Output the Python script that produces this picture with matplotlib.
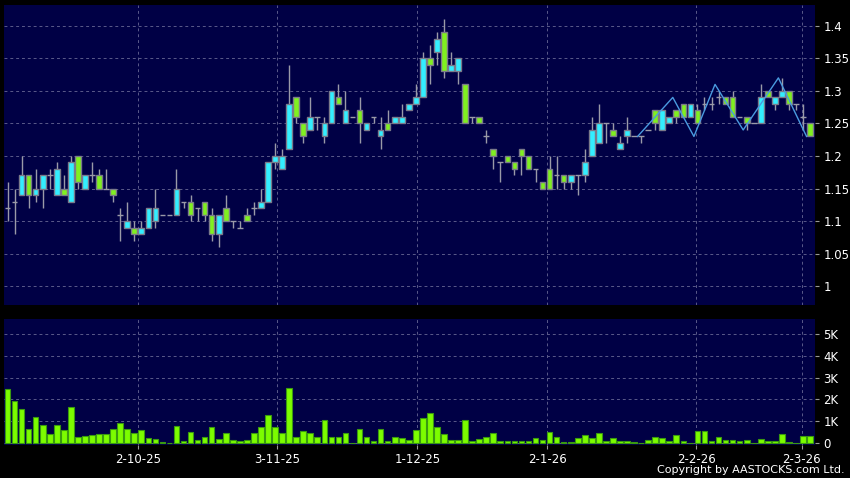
import numpy as np
import matplotlib
matplotlib.use("Agg")
import matplotlib.pyplot as plt

# daily OHLC (oldest -> newest)
opens = [1.12, 1.13, 1.14, 1.17, 1.14, 1.15, 1.17, 1.14, 1.15, 1.13,
         1.20, 1.15, 1.17, 1.17, 1.15, 1.15, 1.11, 1.09, 1.09, 1.08,
         1.09, 1.10, 1.11, 1.11, 1.11, 1.13, 1.13, 1.12, 1.13, 1.11,
         1.08, 1.12, 1.10, 1.09, 1.11, 1.12, 1.12, 1.13, 1.19, 1.18,
         1.21, 1.29, 1.25, 1.24, 1.26, 1.23, 1.25, 1.29, 1.25, 1.26,
         1.27, 1.24, 1.26, 1.23, 1.25, 1.25, 1.25, 1.27, 1.28, 1.29,
         1.35, 1.36, 1.39, 1.33, 1.33, 1.31, 1.26, 1.26, 1.23, 1.21,
         1.19, 1.20, 1.19, 1.21, 1.20, 1.18, 1.16, 1.18, 1.17, 1.17,
         1.16, 1.17, 1.17, 1.20, 1.22, 1.25, 1.24, 1.21, 1.23, 1.23,
         1.23, 1.24, 1.27, 1.24, 1.25, 1.27, 1.28, 1.26, 1.27, 1.28,
         1.28, 1.29, 1.29, 1.29, 1.26, 1.26, 1.25, 1.25, 1.30, 1.28,
         1.29, 1.30, 1.28, 1.26, 1.25]
highs = [1.16, 1.15, 1.20, 1.17, 1.18, 1.17, 1.18, 1.19, 1.17, 1.20,
         1.20, 1.17, 1.19, 1.18, 1.18, 1.15, 1.12, 1.13, 1.10, 1.10,
         1.12, 1.15, 1.11, 1.11, 1.18, 1.13, 1.14, 1.12, 1.13, 1.12,
         1.11, 1.14, 1.10, 1.10, 1.12, 1.13, 1.15, 1.19, 1.22, 1.21,
         1.34, 1.29, 1.25, 1.29, 1.26, 1.26, 1.30, 1.31, 1.30, 1.26,
         1.29, 1.25, 1.26, 1.26, 1.27, 1.26, 1.28, 1.28, 1.31, 1.36,
         1.37, 1.39, 1.41, 1.36, 1.35, 1.31, 1.26, 1.26, 1.24, 1.21,
         1.19, 1.20, 1.19, 1.21, 1.20, 1.18, 1.16, 1.20, 1.20, 1.17,
         1.17, 1.17, 1.21, 1.26, 1.28, 1.25, 1.25, 1.23, 1.26, 1.23,
         1.23, 1.24, 1.27, 1.27, 1.26, 1.27, 1.28, 1.28, 1.28, 1.29,
         1.29, 1.30, 1.29, 1.30, 1.26, 1.26, 1.25, 1.31, 1.30, 1.29,
         1.32, 1.30, 1.28, 1.28, 1.25]
lows = [1.10, 1.08, 1.14, 1.12, 1.13, 1.12, 1.15, 1.14, 1.14, 1.13,
        1.15, 1.15, 1.16, 1.15, 1.15, 1.13, 1.07, 1.09, 1.07, 1.08,
        1.09, 1.09, 1.11, 1.11, 1.11, 1.12, 1.10, 1.10, 1.10, 1.07,
        1.06, 1.10, 1.09, 1.09, 1.10, 1.11, 1.12, 1.13, 1.18, 1.18,
        1.21, 1.25, 1.22, 1.24, 1.24, 1.22, 1.25, 1.28, 1.25, 1.26,
        1.22, 1.24, 1.25, 1.21, 1.24, 1.25, 1.25, 1.27, 1.28, 1.29,
        1.31, 1.34, 1.32, 1.33, 1.31, 1.25, 1.25, 1.25, 1.22, 1.18,
        1.16, 1.19, 1.17, 1.17, 1.18, 1.16, 1.15, 1.15, 1.15, 1.15,
        1.15, 1.14, 1.16, 1.20, 1.22, 1.22, 1.23, 1.21, 1.22, 1.23,
        1.22, 1.24, 1.24, 1.24, 1.25, 1.25, 1.26, 1.26, 1.25, 1.27,
        1.27, 1.28, 1.28, 1.26, 1.26, 1.24, 1.25, 1.25, 1.29, 1.27,
        1.29, 1.27, 1.27, 1.24, 1.23]
closes = [1.12, 1.13, 1.17, 1.14, 1.15, 1.17, 1.17, 1.18, 1.14, 1.19,
          1.16, 1.17, 1.17, 1.15, 1.15, 1.14, 1.11, 1.10, 1.08, 1.09,
          1.12, 1.12, 1.11, 1.11, 1.15, 1.13, 1.11, 1.12, 1.11, 1.08,
          1.11, 1.10, 1.10, 1.09, 1.10, 1.12, 1.13, 1.19, 1.20, 1.20,
          1.28, 1.26, 1.23, 1.26, 1.26, 1.25, 1.30, 1.28, 1.27, 1.26,
          1.25, 1.25, 1.26, 1.24, 1.24, 1.26, 1.26, 1.28, 1.29, 1.35,
          1.34, 1.38, 1.33, 1.34, 1.35, 1.25, 1.26, 1.25, 1.23, 1.20,
          1.19, 1.19, 1.18, 1.20, 1.18, 1.18, 1.15, 1.15, 1.17, 1.16,
          1.17, 1.17, 1.19, 1.24, 1.25, 1.25, 1.23, 1.22, 1.24, 1.23,
          1.23, 1.24, 1.25, 1.27, 1.26, 1.26, 1.26, 1.28, 1.25, 1.28,
          1.28, 1.29, 1.28, 1.26, 1.26, 1.25, 1.25, 1.29, 1.29, 1.29,
          1.30, 1.28, 1.28, 1.26, 1.23]
# volume in thousands of shares
volume_k = [2.47, 1.95, 1.55, 0.67, 1.22, 0.84, 0.43, 0.84, 0.61, 1.65,
            0.30, 0.34, 0.38, 0.43, 0.43, 0.67, 0.91, 0.64, 0.49, 0.61,
            0.23, 0.18, 0.06, 0.00, 0.79, 0.11, 0.53, 0.15, 0.27, 0.75,
            0.18, 0.49, 0.15, 0.11, 0.15, 0.49, 0.72, 1.31, 0.75, 0.49,
            2.52, 0.30, 0.56, 0.49, 0.30, 1.04, 0.30, 0.30, 0.49, 0.03,
            0.64, 0.27, 0.11, 0.67, 0.11, 0.30, 0.23, 0.15, 0.61, 1.16,
            1.37, 0.76, 0.41, 0.15, 0.15, 1.04, 0.12, 0.18, 0.27, 0.46,
            0.12, 0.09, 0.08, 0.09, 0.09, 0.23, 0.15, 0.50, 0.30, 0.06,
            0.06, 0.23, 0.38, 0.23, 0.46, 0.12, 0.23, 0.09, 0.09, 0.05,
            0.00, 0.15, 0.30, 0.23, 0.08, 0.38, 0.09, 0.00, 0.55, 0.58,
            0.12, 0.27, 0.15, 0.15, 0.08, 0.15, 0.00, 0.20, 0.11, 0.08,
            0.41, 0.05, 0.00, 0.34, 0.34]

# zigzag overlay line (bar index, price)
zz_x = [89.5, 94.5, 97.5, 100.5, 104.5, 109.5, 113.5]
zz_y = [1.23, 1.29, 1.23, 1.31, 1.24, 1.32, 1.23]

date_pos = [18.5, 38.3, 58.2, 76.7, 97.8, 112.8]
date_labels = ["2-10-25", "3-11-25", "1-12-25", "2-1-26", "2-2-26", "2-3-26"]

price_ticks = [1.0, 1.05, 1.1, 1.15, 1.2, 1.25, 1.3, 1.35, 1.4]
vol_ticks = [0, 1, 2, 3, 4, 5]
vol_labels = ["0", "1K", "2K", "3K", "4K", "5K"]

navy = "#000045"
up_col = "#33eeff"
dn_col = "#80f020"
wick_col = "#9a9aa8"
grid_col = "#5a5a8a"

o = np.array(opens)
h = np.array(highs)
l = np.array(lows)
c = np.array(closes)
x = np.arange(len(o))

W, H = 850, 478
fig = plt.figure(figsize=(W / 100, H / 100), dpi=100, facecolor="black")
ax = fig.add_axes([4 / W, (H - 305) / H, 811 / W, 300 / H], facecolor=navy)
axv = fig.add_axes([4 / W, (H - 445) / H, 811 / W, 126 / H], facecolor=navy)

# wicks
ax.vlines(x, l, h, color=wick_col, lw=1, zorder=2)

up = c > o
dn = c < o
flat = c == o
bw = 0.8
ax.bar(x[up], (c - o)[up], bottom=o[up], width=bw, color=up_col,
       edgecolor="#7a7a8a", lw=1, zorder=3)
ax.bar(x[dn], (o - c)[dn], bottom=c[dn], width=bw, color=dn_col,
       edgecolor="#7a7a8a", lw=1, zorder=3)
ax.hlines(c[flat], x[flat] - bw / 2, x[flat] + bw / 2, color=wick_col, lw=1, zorder=3)

ax.plot(zz_x, zz_y, color="#4a9be0", lw=1, zorder=4)

# volume
axv.bar(x, volume_k, width=bw, color="#7cfc00", edgecolor="#3a9a10", lw=0.8, zorder=3)

for a in (ax, axv):
    a.set_xlim(-0.5, 114.7)
    for s in a.spines.values():
        s.set_visible(False)
    a.yaxis.tick_right()
    a.set_xticks(date_pos)
    a.grid(True, color=grid_col, lw=0.7, ls=(0, (3, 3)), zorder=0)
    a.tick_params(colors="#9a9a9a", labelcolor="white", labelsize=8.5,
                  length=3, width=0.8, pad=3)

ax.set_ylim(0.971, 1.432)
ax.set_yticks(price_ticks)
ax.set_yticklabels([f"{t:g}" for t in price_ticks])
ax.tick_params(axis="x", labelbottom=False, length=0)

axv.set_ylim(-0.08, 5.67)
axv.set_yticks(vol_ticks)
axv.set_yticklabels(vol_labels)
axv.set_xticklabels(date_labels)

fig.text(845 / W, 1 - 470 / H, "Copyright by AASTOCKS.com Ltd.", color="white",
         fontsize=8, ha="right", va="center")

fig.savefig("out.png", dpi=100, facecolor="black")
